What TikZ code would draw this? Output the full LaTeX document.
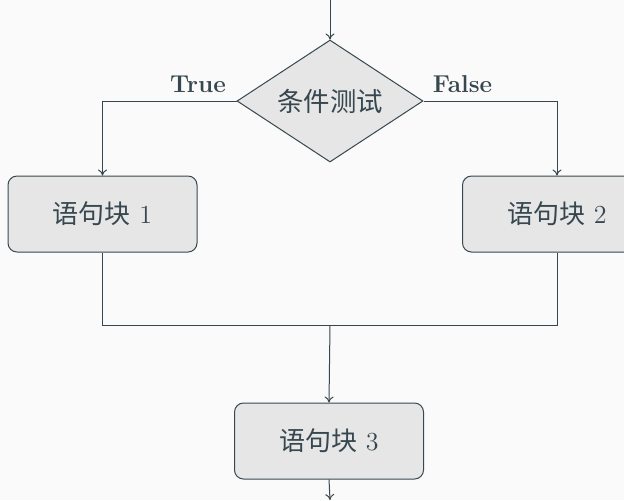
\documentclass[tikz,border=0pt]{standalone}
\usepackage{fontspec}
\newfontfamily\cjk{Noto Sans CJK SC}
\usetikzlibrary{shapes.geometric,arrows.meta}
\definecolor{linec}{HTML}{37474F}
\definecolor{boxfill}{HTML}{E6E6E6}
\definecolor{bgc}{HTML}{FAFAFA}
\begin{document}
\begin{tikzpicture}[x=0.5pt,y=-0.5pt,
  line width=0.5pt,
  arr/.style={draw=linec,-{To[length=3pt,width=4.5pt]}},
  conn/.style={draw=linec},
  decide/.style={diamond,shape aspect=1.5,draw=linec,fill=boxfill,inner sep=0pt,minimum width=93pt,minimum height=61pt,font=\fontsize{13.2}{15}\cjk,text=linec},
  block/.style={rectangle,rounded corners=4.5pt,draw=linec,fill=boxfill,minimum width=94.5pt,minimum height=38pt,inner sep=0pt,font=\fontsize{13}{15}\selectfont,text=linec},
  lbl/.style={font=\fontsize{12.2}{14}\selectfont\bfseries,text=linec,inner sep=0pt}]
\path[use as bounding box,fill=bgc] (0,0) rectangle (624,500);
\begin{scope}
\clip (0,0) rectangle (624,500);
\coordinate (start) at (330,0);
\coordinate (finish) at (330,500);
\coordinate (merge) at (330,325);
\node[decide] (d) at (330,101) {条件测试};
\node[block] (b1) at (102.5,214) {{\cjk 语句块} 1};
\node[block] (b2) at (557,214) {{\cjk 语句块} 2};
\node[block] (b3) at (329,441) {{\cjk 语句块} 3};
\draw[arr] (start) -- (d.north);
\draw[arr] (d.west) -| (b1.north);
\draw[arr] (d.east) -| (b2.north);
\draw[conn] (b1.south) |- (merge) -| (b2.south);
\draw[arr] (merge) -- (b3.north);
\draw[arr] (b3.south) -- (finish);
\node[lbl] (t) at (198,84) {True};
\node[lbl] (f) at (462.5,84) {False};
\end{scope}
\end{tikzpicture}
\end{document}
